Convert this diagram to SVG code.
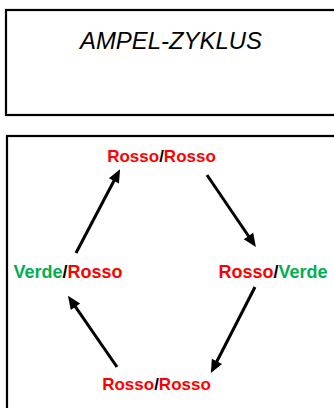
<svg xmlns="http://www.w3.org/2000/svg" width="334" height="408" viewBox="0 0 334 408">
  <style>
    .frame { fill: none; stroke: #000; stroke-width: 2.2; }
    .title { font-family: "Liberation Sans", Arial, sans-serif; font-style: italic; font-size: 23px; fill: #000; }
    .state { font-family: "Liberation Sans", Arial, sans-serif; font-weight: bold; font-size: 18px; }
    .state.narrow { font-size: 17px; }
    .red { fill: #FF0000; }
    .green { fill: #00B050; }
    .slash { fill: #000; }
    .arrow { stroke: #000; stroke-width: 3; fill: none; marker-end: url(#head); }
  </style>
  <defs>
    <marker id="head" markerUnits="strokeWidth" markerWidth="4.4" markerHeight="3.8" refX="2.2" refY="1.9" orient="auto" overflow="visible">
      <path d="M0,0 L4.4,1.9 L0,3.8 z" fill="#000"/>
    </marker>
  </defs>
  <rect width="334" height="408" fill="#fff"/>

  <g id="title-box">
    <rect class="frame" x="6" y="10" width="340" height="105"/>
    <text class="title" x="171" y="49" text-anchor="middle" textLength="182" lengthAdjust="spacingAndGlyphs">AMPEL-ZYKLUS</text>
  </g>

  <g id="cycle-box">
    <rect class="frame" x="7" y="136" width="340" height="300"/>
  </g>

  <g id="state-top">
    <text class="state narrow" x="161.5" y="162" text-anchor="middle"><tspan class="red">Rosso</tspan><tspan class="slash">/</tspan><tspan class="red">Rosso</tspan></text>
  </g>
  <g id="state-left">
    <text class="state" x="68" y="278" text-anchor="middle"><tspan class="green">Verde</tspan><tspan class="slash">/</tspan><tspan class="red">Rosso</tspan></text>
  </g>
  <g id="state-right">
    <text class="state" x="273" y="278" text-anchor="middle"><tspan class="red">Rosso</tspan><tspan class="slash">/</tspan><tspan class="green">Verde</tspan></text>
  </g>
  <g id="state-bottom">
    <text class="state narrow" x="156.5" y="390" text-anchor="middle"><tspan class="red">Rosso</tspan><tspan class="slash">/</tspan><tspan class="red">Rosso</tspan></text>
  </g>

  <g id="connectors">
    <line class="arrow" x1="76" y1="253" x2="117" y2="175"/>
    <line class="arrow" x1="207" y1="175" x2="252.2" y2="241.5"/>
    <line class="arrow" x1="255" y1="287" x2="213.9" y2="367.2"/>
    <line class="arrow" x1="117" y1="367" x2="71.7" y2="301.3"/>
  </g>
</svg>
